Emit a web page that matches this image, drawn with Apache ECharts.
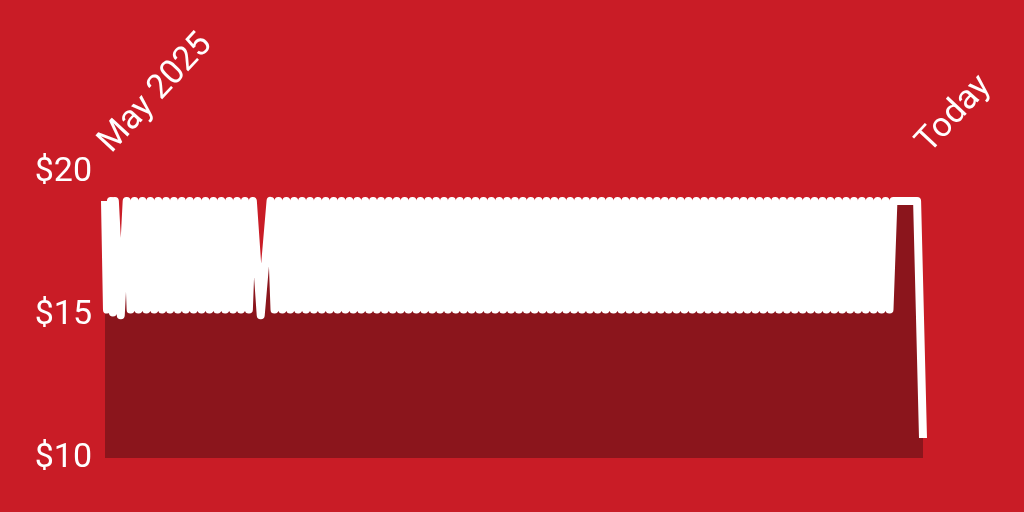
<!DOCTYPE html>
<html>
<head>
<meta charset="utf-8">
<script src="https://cdn.jsdelivr.net/npm/echarts@6/dist/echarts.min.js"></script>
<style>
html,body{margin:0;padding:0;background:#C91C26;}
#chart{width:1024px;height:512px;}
</style>
</head>
<body>
<div id="chart"></div>
<script>
// x positions (time steps since May 2025) and prices
var days = [
  0,1,3,4,5,8,11,
  13,15,17,19,21,23,25,27,29,31,
  33,35,37,39,41,43,45,47,49,51,
  53,55,57,59,61,63,65,67,69,71,
  73,75,
  79,84,
  86,88,90,92,94,96,98,100,102,104,
  106,108,110,112,114,116,118,120,122,124,
  126,128,130,132,134,136,138,140,142,144,
  146,148,150,152,154,156,158,160,162,164,
  166,168,170,172,174,176,178,180,182,184,
  186,188,190,192,194,196,198,200,202,204,
  206,208,210,212,214,216,218,220,222,224,
  226,228,230,232,234,236,238,240,242,244,
  246,248,250,252,254,256,258,260,262,264,
  266,268,270,272,274,276,278,280,282,284,
  286,288,290,292,294,296,298,300,302,304,
  306,308,310,312,314,316,318,320,322,324,
  326,328,330,332,334,336,338,340,342,344,
  346,348,350,352,354,356,358,360,362,364,
  366,368,370,372,374,376,378,380,382,384,
  386,388,390,392,394,396,398,400,
  404,408,412,415
];
var prices = [
  18.99,15.19,18.99,15.09,18.99,14.99,18.99,
  15.19,18.99,15.19,18.99,15.19,18.99,15.19,18.99,15.19,18.99,
  15.19,18.99,15.19,18.99,15.19,18.99,15.19,18.99,15.19,18.99,
  15.19,18.99,15.19,18.99,15.19,18.99,15.19,18.99,15.19,18.99,
  15.19,18.99,
  14.99,18.99,
  15.19,18.99,15.19,18.99,15.19,18.99,15.19,18.99,15.19,18.99,
  15.19,18.99,15.19,18.99,15.19,18.99,15.19,18.99,15.19,18.99,
  15.19,18.99,15.19,18.99,15.19,18.99,15.19,18.99,15.19,18.99,
  15.19,18.99,15.19,18.99,15.19,18.99,15.19,18.99,15.19,18.99,
  15.19,18.99,15.19,18.99,15.19,18.99,15.19,18.99,15.19,18.99,
  15.19,18.99,15.19,18.99,15.19,18.99,15.19,18.99,15.19,18.99,
  15.19,18.99,15.19,18.99,15.19,18.99,15.19,18.99,15.19,18.99,
  15.19,18.99,15.19,18.99,15.19,18.99,15.19,18.99,15.19,18.99,
  15.19,18.99,15.19,18.99,15.19,18.99,15.19,18.99,15.19,18.99,
  15.19,18.99,15.19,18.99,15.19,18.99,15.19,18.99,15.19,18.99,
  15.19,18.99,15.19,18.99,15.19,18.99,15.19,18.99,15.19,18.99,
  15.19,18.99,15.19,18.99,15.19,18.99,15.19,18.99,15.19,18.99,
  15.19,18.99,15.19,18.99,15.19,18.99,15.19,18.99,15.19,18.99,
  15.19,18.99,15.19,18.99,15.19,18.99,15.19,18.99,15.19,18.99,
  15.19,18.99,15.19,18.99,15.19,18.99,15.19,18.99,15.19,18.99,
  15.19,18.99,15.19,18.99,15.19,18.99,15.19,18.99,
  18.99,18.99,18.99,10.7
];
var xLabels = ['May 2025', 'Today'];
var yTicks = [10, 15, 20];

var points = days.map(function (d, i) { return [d, prices[i]]; });
var lastDay = days[days.length - 1];

var chart = echarts.init(document.getElementById('chart'));
chart.setOption({
  backgroundColor: '#C91C26',
  animation: false,
  grid: { left: 105, right: 101, top: 172, bottom: 54, containLabel: false, outerBoundsMode: 'none' },
  xAxis: {
    type: 'value',
    position: 'top',
    min: 0,
    max: lastDay,
    interval: lastDay,
    axisLine: { show: false },
    axisTick: { show: false },
    splitLine: { show: false },
    axisLabel: {
      rotate: -47,
      margin: 24,
      color: '#ffffff',
      fontFamily: 'Roboto',
      fontSize: 34,
      formatter: function (v) { return v === 0 ? xLabels[0] : xLabels[1]; }
    }
  },
  yAxis: {
    type: 'value',
    min: yTicks[0],
    max: yTicks[yTicks.length - 1],
    interval: yTicks[1] - yTicks[0],
    axisLine: { show: false },
    axisTick: { show: false },
    splitLine: { show: false },
    axisLabel: {
      color: '#ffffff',
      fontFamily: 'Roboto',
      fontSize: 34,
      margin: 13,
      formatter: '${value}'
    }
  },
  series: [{
    type: 'line',
    data: points,
    showSymbol: false,
    symbol: 'none',
    smooth: false,
    lineStyle: { color: '#ffffff', width: 8, join: 'round', cap: 'butt' },
    areaStyle: { color: '#8B151C', opacity: 1, origin: 'start' }
  }]
});
</script>
</body>
</html>
